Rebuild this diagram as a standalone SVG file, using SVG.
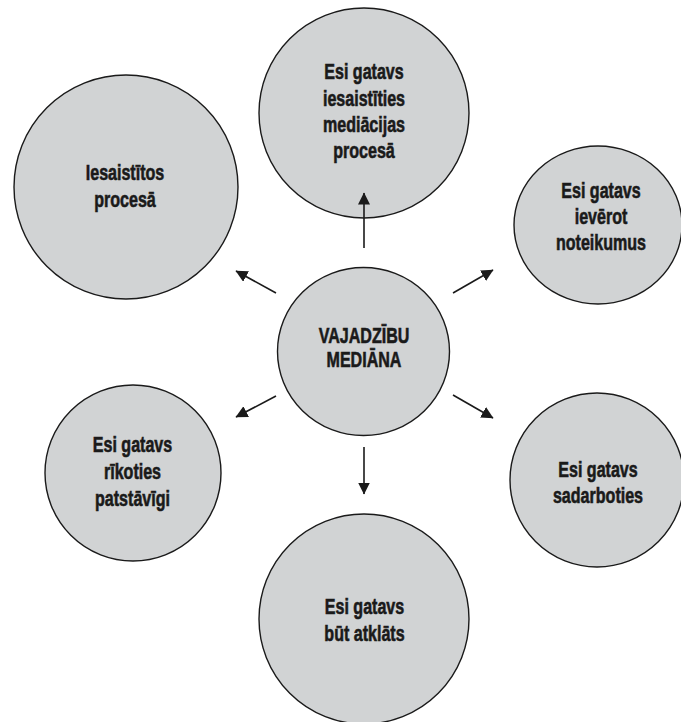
<svg xmlns="http://www.w3.org/2000/svg" width="681" height="722" viewBox="0 0 681 722">
<defs>
<style>
.node{fill:#d1d3d4;stroke:#1a1a1a;stroke-width:1.4}
.lbl{font-family:"Liberation Sans",Arial,sans-serif;font-weight:bold;font-size:22px;fill:#1a1a1a;stroke:#1a1a1a;stroke-width:0.6;text-anchor:middle}
.conn{stroke:#1a1a1a;stroke-width:1.6;fill:none;marker-end:url(#arr)}
</style>
<marker id="arr" markerUnits="userSpaceOnUse" markerWidth="13" markerHeight="13" refX="11.5" refY="6" orient="auto">
<path d="M0,0 L12,6 L0,12 z" fill="#1a1a1a"/>
</marker>
</defs>
<rect width="681" height="722" fill="#ffffff"/>

<g id="node-top">
<circle class="node" cx="364" cy="113" r="105"/>
<g transform="translate(364 0) scale(0.73 1)">
<text class="lbl" x="0" y="79">Esi gatavs</text>
<text class="lbl" x="0" y="106">iesaistīties</text>
<text class="lbl" x="0" y="132">mediācijas</text>
<text class="lbl" x="0" y="158">procesā</text>
</g>
</g>

<g id="node-topleft">
<circle class="node" cx="126" cy="187" r="112"/>
<g transform="translate(125 0) scale(0.73 1)">
<text class="lbl" x="0" y="180">Iesaistītos</text>
<text class="lbl" x="0" y="207">procesā</text>
</g>
</g>

<g id="node-right">
<ellipse class="node" cx="598" cy="225" rx="84" ry="79"/>
<g transform="translate(601 0) scale(0.73 1)">
<text class="lbl" x="0" y="198">Esi gatavs</text>
<text class="lbl" x="0" y="224">ievērot</text>
<text class="lbl" x="0" y="250">noteikumus</text>
</g>
</g>

<g id="node-center">
<ellipse class="node" cx="363.5" cy="351.5" rx="86" ry="84"/>
<g transform="translate(364 0) scale(0.73 1)">
<text class="lbl" x="0" y="343">VAJADZĪBU</text>
<text class="lbl" x="0" y="367">MEDIĀNA</text>
</g>
</g>

<g id="node-bottomleft">
<circle class="node" cx="133" cy="473" r="88"/>
<g transform="translate(132.5 0) scale(0.73 1)">
<text class="lbl" x="0" y="452">Esi gatavs</text>
<text class="lbl" x="0" y="479">rīkoties</text>
<text class="lbl" x="0" y="506">patstāvīgi</text>
</g>
</g>

<g id="node-bottomright">
<circle class="node" cx="597" cy="480" r="87"/>
<g transform="translate(598 0) scale(0.73 1)">
<text class="lbl" x="0" y="477">Esi gatavs</text>
<text class="lbl" x="0" y="503">sadarboties</text>
</g>
</g>

<g id="node-bottom">
<circle class="node" cx="364" cy="619" r="105"/>
<g transform="translate(364.5 0) scale(0.73 1)">
<text class="lbl" x="0" y="614">Esi gatavs</text>
<text class="lbl" x="0" y="641">būt atklāts</text>
</g>
</g>

<g id="connectors">
<line class="conn" x1="364" y1="248" x2="364" y2="193"/>
<line class="conn" x1="276" y1="293" x2="236" y2="271"/>
<line class="conn" x1="453" y1="293" x2="493" y2="270"/>
<line class="conn" x1="276" y1="396" x2="236" y2="417"/>
<line class="conn" x1="453" y1="395" x2="493" y2="418"/>
<line class="conn" x1="364" y1="447" x2="364" y2="494"/>
</g>
</svg>
